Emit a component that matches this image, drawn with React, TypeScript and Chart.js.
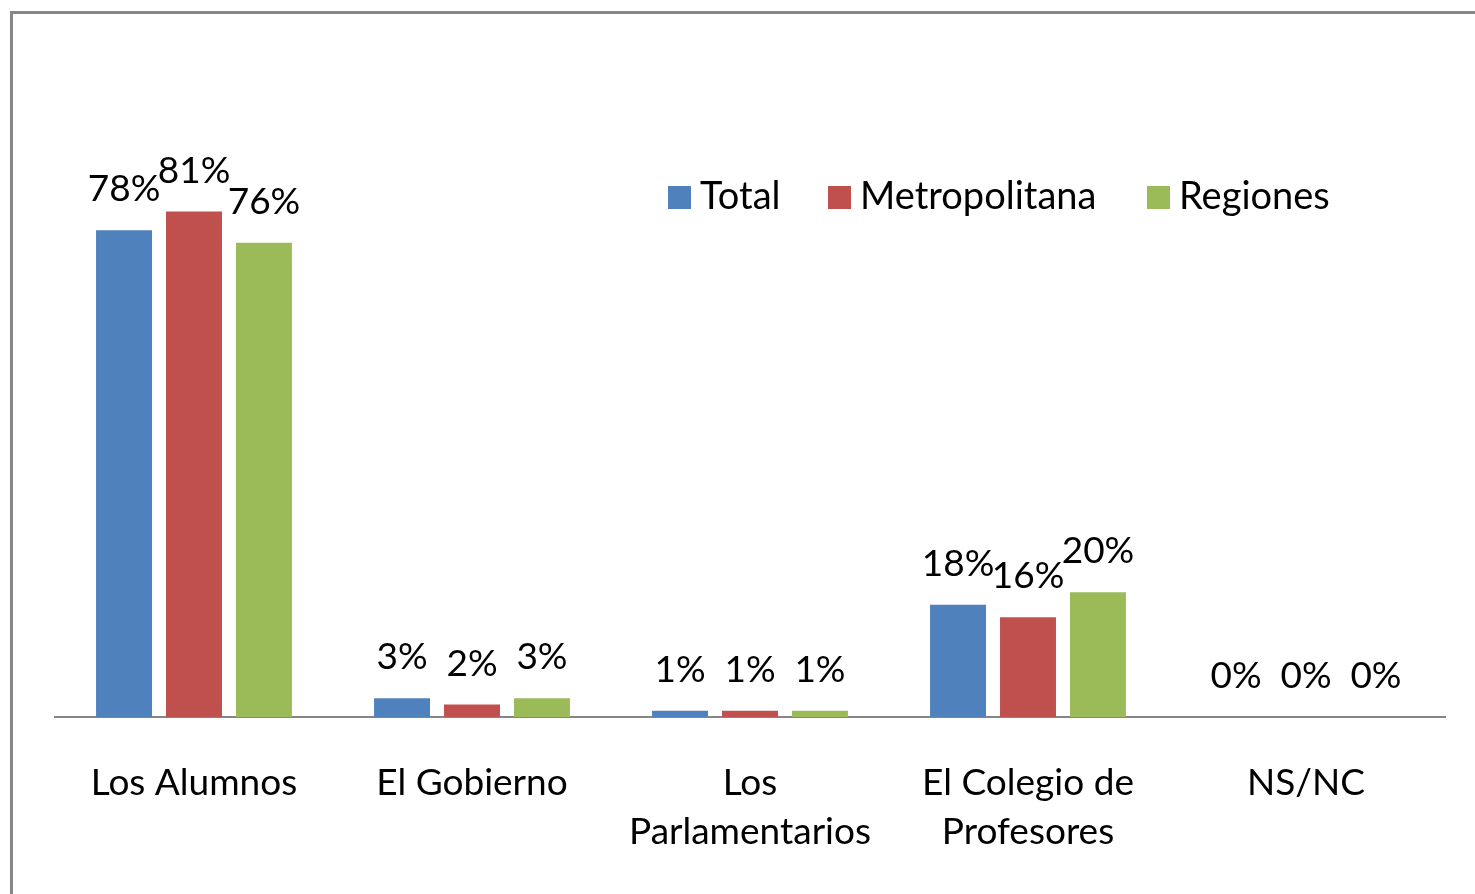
import React, { useEffect, useRef } from "react";
import { Chart, registerables } from "chart.js";

Chart.register(...registerables);

const categories: (string | string[])[] = [
  "Los Alumnos",
  "El Gobierno",
  ["Los", "Parlamentarios"],
  ["El Colegio de", "Profesores"],
  "NS/NC",
];
const seriesNames = ["Total", "Metropolitana", "Regiones"];
const totalValues = [78, 3, 1, 18, 0];
const metropolitanaValues = [81, 2, 1, 16, 0];
const regionesValues = [76, 3, 1, 20, 0];
const seriesColors = ["#4F81BD", "#C0504D", "#9BBB59"];

const FONT = "Lato, 'Noto Sans', sans-serif";
const LEGEND_X = [668, 828, 1147];

const borderPlugin = {
  id: "outerBorder",
  beforeDraw(chart: any) {
    const ctx = chart.ctx;
    ctx.save();
    ctx.fillStyle = "#ffffff";
    ctx.fillRect(0, 0, chart.width, chart.height);
    ctx.strokeStyle = "#878787";
    ctx.lineWidth = 3;
    ctx.strokeRect(11.5, 12.5, chart.width + 40, chart.height + 40);
    ctx.restore();
  },
};

const dataLabelPlugin = {
  id: "dataLabels",
  afterDatasetsDraw(chart: any) {
    const ctx = chart.ctx;
    ctx.save();
    ctx.font = `37px ${FONT}`;
    ctx.fillStyle = "#000000";
    ctx.textAlign = "center";
    ctx.textBaseline = "alphabetic";
    chart.data.datasets.forEach((ds: any, i: number) => {
      const meta = chart.getDatasetMeta(i);
      meta.data.forEach((el: any, j: number) => {
        ctx.fillText(`${ds.data[j]}%`, el.x, el.y - 29);
      });
    });
    ctx.restore();
  },
};

const legendPlugin = {
  id: "customLegend",
  afterDraw(chart: any) {
    const ctx = chart.ctx;
    ctx.save();
    ctx.font = `38px ${FONT}`;
    ctx.textBaseline = "middle";
    ctx.textAlign = "left";
    const yc = 197;
    chart.data.datasets.forEach((ds: any, i: number) => {
      const x = LEGEND_X[i];
      ctx.fillStyle = ds.backgroundColor;
      ctx.fillRect(x, yc - 11, 23, 23);
      ctx.fillStyle = "#000000";
      ctx.fillText(ds.label, x + 32, yc);
    });
    ctx.restore();
  },
};

export default function App() {
  const ref = useRef<HTMLCanvasElement | null>(null);
  useEffect(() => {
    if (!ref.current) return;
    const valueSets = [totalValues, metropolitanaValues, regionesValues];
    const chart = new Chart(ref.current, {
      type: "bar",
      data: {
        labels: categories,
        datasets: seriesNames.map((name, i) => ({
          label: name,
          data: valueSets[i],
          backgroundColor: seriesColors[i],
          borderWidth: 0,
          barPercentage: 0.8,
          categoryPercentage: 0.755,
        })),
      },
      options: {
        responsive: false,
        animation: false,
        layout: { padding: { left: 55, right: 30, top: 93, bottom: 0 } },
        plugins: {
          legend: { display: false },
          tooltip: { enabled: false },
        },
        scales: {
          x: {
            grid: { display: false, drawTicks: false },
            border: { display: true, color: "#868686", width: 2 },
            ticks: {
              color: "#000000",
              padding: 42,
              maxRotation: 0,
              autoSkip: false,
              font: { family: FONT, size: 37, lineHeight: 49 / 37 },
            },
            afterFit: (s: any) => {
              s.height = 177;
            },
          },
          y: {
            display: false,
            min: 0,
            max: 100,
          },
        },
      },
      plugins: [borderPlugin, dataLabelPlugin, legendPlugin],
    });
    return () => chart.destroy();
  }, []);
  return (
    <div style={{ position: "fixed", left: 0, top: 0, width: 1475, height: 894 }}>
      <canvas ref={ref} width={1475} height={894} />
    </div>
  );
}
